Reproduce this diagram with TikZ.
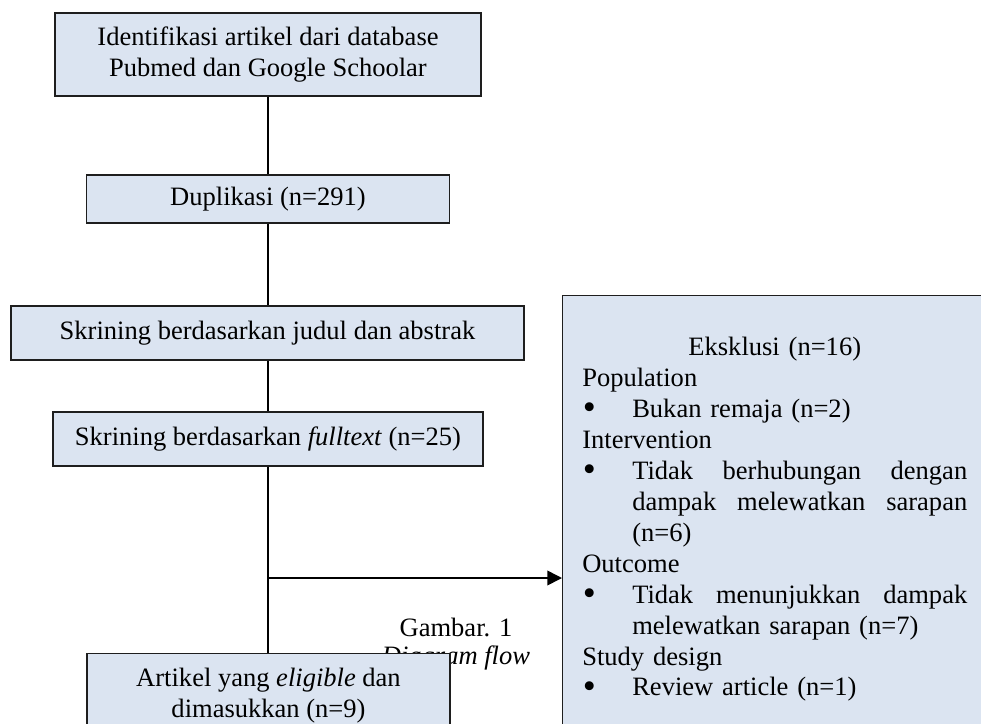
\documentclass[tikz,border=0pt]{standalone}
\usepackage{fontspec}
\setmainfont{Liberation Serif}
\usetikzlibrary{arrows.meta}
\definecolor{boxfill}{RGB}{219,228,241}
\definecolor{boxline}{RGB}{30,30,30}
\newcommand{\mainsize}{\fontsize{19.9pt}{23.2pt}\selectfont}
\newlength{\bulind}\setlength{\bulind}{37.5pt}
\newlength{\bulw}\setlength{\bulw}{251.25pt}
\newcommand{\bigbul}{\smash{\raisebox{-0.08em}{\scalebox{1.4}{\textbullet}}}}
\newcommand{\bitem}[1]{\makebox[\bulind][l]{\hspace{0.5pt}\bigbul}#1}
\newcommand{\contline}[1]{\hspace*{\bulind}#1}
\newcommand{\justline}[1]{\hbox to \bulw{#1}}
\begin{document}
\begin{tikzpicture}[x=0.75pt,y=-0.75pt, font=\mainsize,
  box/.style={draw=boxline, line width=0.8pt, fill=boxfill, inner sep=0pt, align=center},
  link/.style={line width=1.2pt},
  arr/.style={line width=1.2pt, -{Triangle[length=11pt,width=11pt]}}]
\useasboundingbox (0,0) rectangle (981,724);
\clip (0,0) rectangle (981,724);
\fill[white] (0,0) rectangle (981,724);
\coordinate (spine) at (268,0);
\coordinate (j) at (268,578);
% boxes
\node[box, minimum width=319.5pt, minimum height=62.25pt] (b1) at (268,54.5)
  {Identifikasi artikel dari database\\Pubmed dan Google Schoolar};
\node[box, minimum width=272.25pt, minimum height=36pt] (b2) at (268,199)
  {Duplikasi (n=291)};
\node[box, minimum width=384.75pt, minimum height=40.5pt] (b3) at (267.5,333)
  {Skrining berdasarkan judul dan abstrak};
\node[box, minimum width=322.5pt, minimum height=40.5pt] (b4) at (268,439)
  {Skrining berdasarkan \textit{fulltext} (n=25)};
\node[box, anchor=north west, minimum width=330pt, minimum height=352.5pt] (ex) at (562,295) {};
\node[anchor=north west, text width=288.75pt, align=left, inner sep=0pt] (exlist) at (582,337) {%
\makebox[288.75pt]{Eksklusi (n=16)}\\
Population\\
\bitem{Bukan remaja (n=2)}\\
Intervention\\
\bitem{\justline{Tidak\hfill berhubungan\hfill dengan}}\\
\contline{\justline{dampak\hfill melewatkan\hfill sarapan}}\\
\contline{(n=6)}\\
Outcome\\
\bitem{\justline{Tidak\hfill menunjukkan\hfill dampak}}\\
\contline{melewatkan sarapan (n=7)}\\
Study design\\
\bitem{Review article (n=1)}};
% connectors
\draw[link] (b1.south -| spine) -- (b2.north -| spine);
\draw[link] (b2.south -| spine) -- (b3.north -| spine);
\draw[link] (b3.south -| spine) -- (b4.north -| spine);
\draw[link] (b4.south -| spine) -- (j) -- (268,700);
\draw[arr] (j) -- (j -| ex.west);
% caption
\node[align=center, font=\fontsize{19.9pt}{21pt}\selectfont] (cap) at (456,644) {Gambar. 1\\\textit{Diagram flow}};
\node[box, anchor=north, minimum width=272.25pt, minimum height=63pt] (b5) at (268.5,653)
  {Artikel yang \textit{eligible} dan\\dimasukkan (n=9)};
\end{tikzpicture}
\end{document}
